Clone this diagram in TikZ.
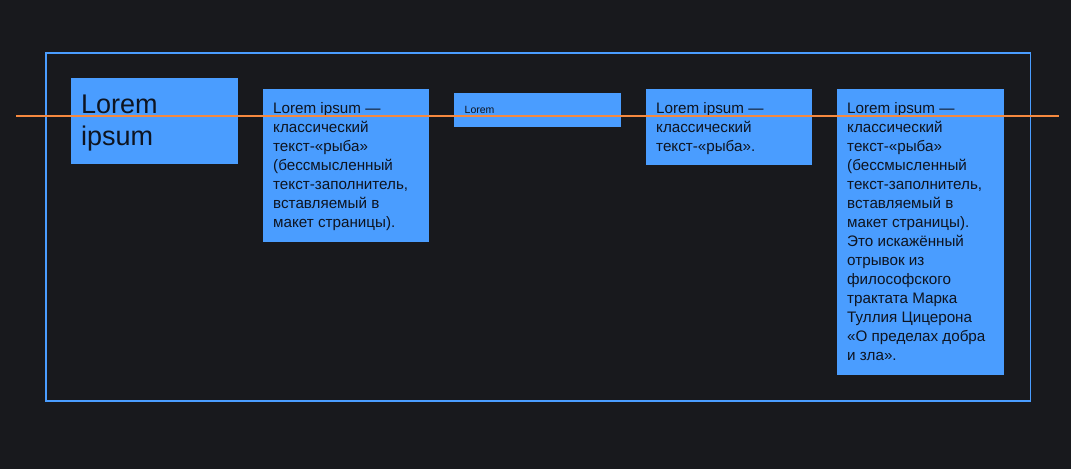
\documentclass[tikz,border=0pt]{standalone}
\usepackage{fontspec}
\setmainfont{Liberation Sans}
\definecolor{bg}{HTML}{18191D}
\definecolor{boxblue}{HTML}{4A9DFF}
\definecolor{lineorange}{HTML}{F5893F}
\definecolor{ink}{HTML}{0E1420}
\begin{document}
\begin{tikzpicture}[x=1pt,y=-1pt,
  box/.style={fill=boxblue,draw=none,inner sep=0pt,anchor=north west},
  txt/.style={text=ink,inner sep=0pt,anchor=north west,align=left,font=\fontsize{15.2}{19}\selectfont},
  bigtxt/.style={txt,font=\fontsize{27}{32}\selectfont},
  tinytxt/.style={txt,font=\fontsize{10.5}{12}\selectfont}]
\fill[bg] (0,0) rectangle (1071,469);
\useasboundingbox (0,0) rectangle (1071,469);
\node[draw=boxblue,line width=1.6pt,inner sep=0pt,minimum width=984.5,minimum height=348,anchor=north west] (frame) at (45.2,52.2) {};
\node[box,minimum width=167,minimum height=86] (b1) at (71,78) {};
\node[box,minimum width=166,minimum height=153] (b2) at (263,89) {};
\node[box,minimum width=167,minimum height=34] (b3) at (454,93) {};
\node[box,minimum width=166,minimum height=76] (b4) at (646,89) {};
\node[box,minimum width=167,minimum height=286] (b5) at (837,89) {};
\node[bigtxt] (t1) at ([xshift=10pt,yshift=-17pt]b1.north west) {Lorem\\ipsum};
\node[txt] (t2) at ([xshift=10pt,yshift=-13.5pt]b2.north west) {Lorem ipsum —\\классический\\текст-«рыба»\\(бессмысленный\\текст-заполнитель,\\вставляемый в\\макет страницы).};
\node[tinytxt] (t3) at ([xshift=10.5pt,yshift=-13pt]b3.north west) {Lorem};
\node[txt] (t4) at ([xshift=10pt,yshift=-13.5pt]b4.north west) {Lorem ipsum —\\классический\\текст-«рыба».};
\node[txt] (t5) at ([xshift=10pt,yshift=-13.5pt]b5.north west) {Lorem ipsum —\\классический\\текст-«рыба»\\(бессмысленный\\текст-заполнитель,\\вставляемый в\\макет страницы).\\Это искажённый\\отрывок из\\философского\\трактата Марка\\Туллия Цицерона\\«О пределах добра\\и зла».};
\coordinate (l1) at (16,116);
\coordinate (l2) at (1059,116);
\draw[lineorange,line width=2pt] (l1) -- (l2);
\end{tikzpicture}
\end{document}
